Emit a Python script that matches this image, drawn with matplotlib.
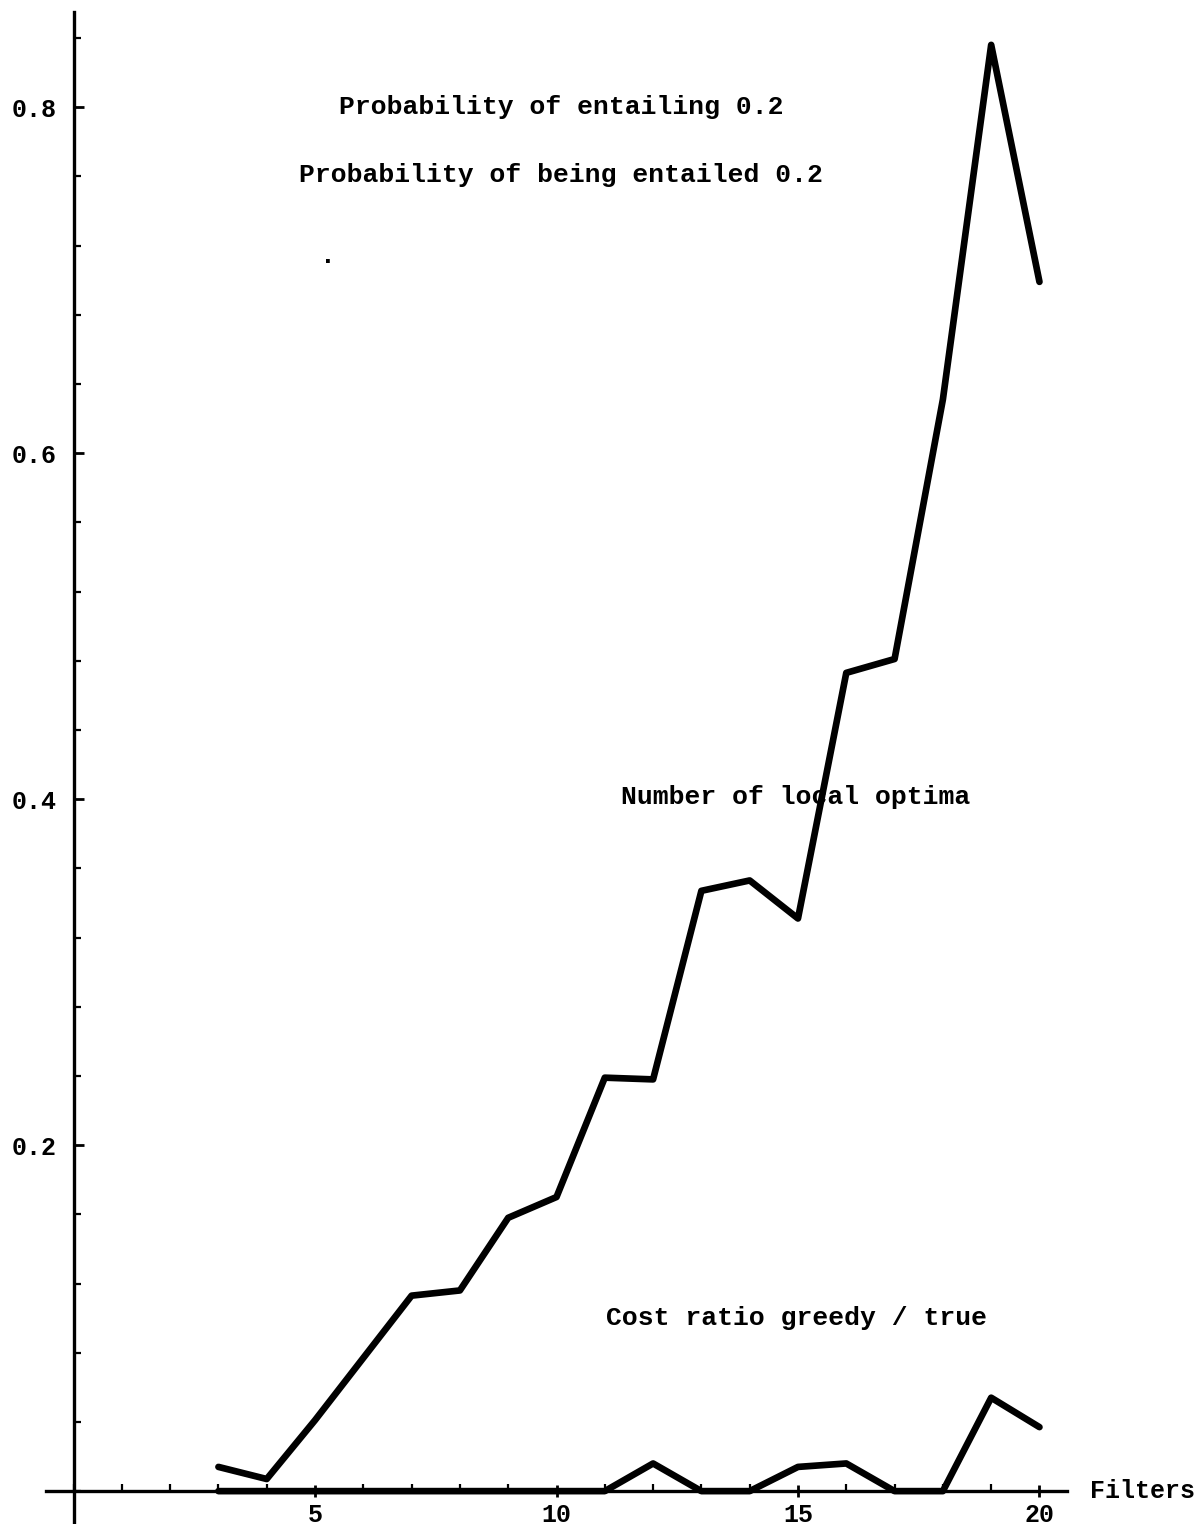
import matplotlib
matplotlib.use('Agg')
import matplotlib.pyplot as plt
from matplotlib.ticker import MultipleLocator, FixedLocator

# filters count on the x axis
filters = list(range(3, 21))
# number of local optima (normalised)
local_optima = [0.014, 0.007, 0.041, 0.077, 0.113, 0.116, 0.158, 0.170, 0.239,
                0.238, 0.347, 0.353, 0.331, 0.473, 0.481, 0.631, 0.836, 0.699]
# cost ratio greedy / true
cost_ratio = [0, 0, 0, 0, 0, 0, 0, 0, 0,
              0.016, 0, 0, 0.014, 0.016, 0, 0, 0.054, 0.037]

xticks = [5, 10, 15, 20]
yticks = [0.2, 0.4, 0.6, 0.8]

font = 'Liberation Mono'

fig = plt.figure(figsize=(12.02, 15.24), dpi=100)
ax = fig.add_axes([46/1202, 0.0, 1021/1202, 1512/1524])

ax.plot(filters, local_optima, color='black', lw=4.8,
        solid_capstyle='round', solid_joinstyle='round')
ax.plot(filters, cost_ratio, color='black', lw=4.8,
        solid_capstyle='round', solid_joinstyle='round')

ax.set_xlim(-0.57, 20.57)
ax.set_ylim(-0.019, 0.855)

for s in ['top', 'right']:
    ax.spines[s].set_visible(False)
ax.spines['left'].set_position(('data', 0))
ax.spines['bottom'].set_position(('data', 0))
ax.spines['left'].set_linewidth(2.4)
ax.spines['bottom'].set_linewidth(2.4)

ax.xaxis.set_major_locator(FixedLocator(xticks))
ax.xaxis.set_minor_locator(MultipleLocator(1))
ax.yaxis.set_major_locator(FixedLocator(yticks))
ax.yaxis.set_minor_locator(MultipleLocator(0.04))
ax.set_xticklabels([str(t) for t in xticks])
ax.set_yticklabels(['%.1f' % t for t in yticks])

ax.tick_params(axis='x', which='major', direction='inout', length=9, width=2,
               pad=4, labelsize=18)
ax.tick_params(axis='x', which='minor', direction='in', length=5, width=1.6)
ax.tick_params(axis='y', which='major', direction='in', length=7, width=2,
               pad=12, labelsize=18)
ax.tick_params(axis='y', which='minor', direction='in', length=5, width=1.6)
for lab in ax.get_xticklabels() + ax.get_yticklabels():
    lab.set_family(font)
    lab.set_weight('bold')

tkw = dict(family=font, weight='bold', fontsize=19, ha='center', va='center')
ax.text(10.1, 0.8, 'Probability of entailing 0.2', **tkw)
ax.text(10.1, 0.761, 'Probability of being entailed 0.2', **tkw)
ax.text(5.27, 0.714, '.', **tkw)
ax.text(14.95, 0.401, 'Number of local optima', **tkw)
ax.text(14.97, 0.1, 'Cost ratio greedy / true', **tkw)
ax.text(21.05, 0.0, 'Filters', family=font, weight='bold', fontsize=18,
        ha='left', va='center', clip_on=False)

fig.savefig('out.png', dpi=100)
